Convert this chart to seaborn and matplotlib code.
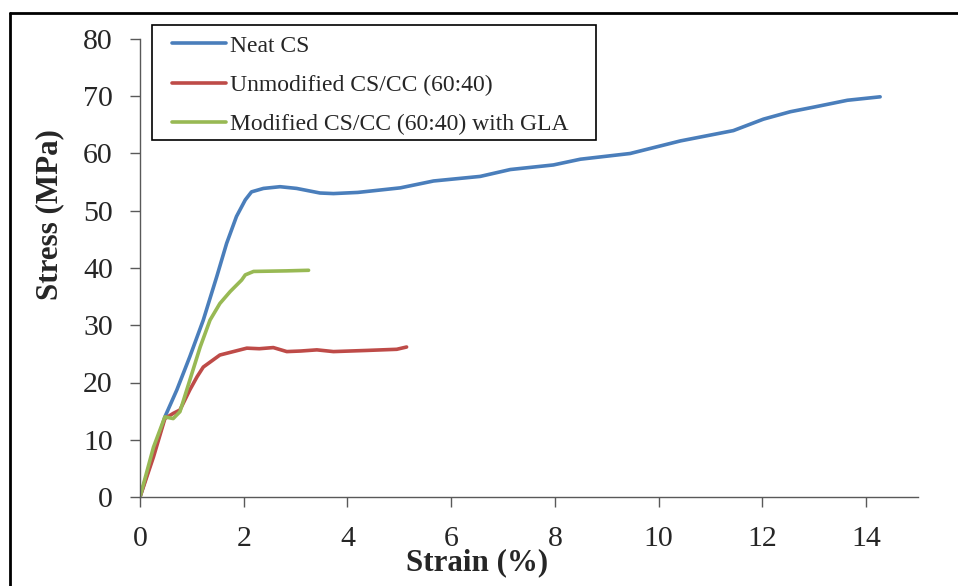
import numpy as np
import matplotlib
matplotlib.use('Agg')
import matplotlib.pyplot as plt
import seaborn as sns
import pandas as pd
from matplotlib.lines import Line2D
from matplotlib.patches import Rectangle

fuente = 21.5

# curves (strain %, stress MPa)
neat_x = [0, 0.48, 0.71, 0.96, 1.22, 1.48, 1.67, 1.86, 2.03, 2.15, 2.38, 2.70, 3.02, 3.47, 3.73, 4.20,
          5.02, 5.66, 6.56, 7.14, 7.97, 8.49, 9.45, 10.42, 11.44, 12.02, 12.54, 12.99, 13.64, 14.27]
neat_y = [0, 14.0, 18.7, 24.5, 30.9, 38.5, 44.3, 49.0, 51.9, 53.3, 53.9, 54.2, 53.9, 53.1, 53.0, 53.2,
          54.0, 55.2, 56.0, 57.2, 58.0, 59.0, 60.0, 62.2, 64.0, 66.0, 67.3, 68.1, 69.3, 69.9]
unmod_x = [0, 0.26, 0.48, 0.64, 0.77, 0.96, 1.10, 1.22, 1.54, 2.06, 2.30, 2.57, 2.83, 3.10, 3.41,
           3.73, 4.37, 4.95, 5.14]
unmod_y = [0, 7.0, 13.7, 14.6, 15.2, 18.7, 21.0, 22.7, 24.8, 26.0, 25.9, 26.1, 25.4, 25.5, 25.7,
           25.4, 25.6, 25.8, 26.2]
mod_x = [0, 0.26, 0.48, 0.64, 0.77, 0.96, 1.16, 1.35, 1.54, 1.74, 1.96, 2.03, 2.19, 2.83, 3.25]
mod_y = [0, 8.7, 14.0, 13.7, 14.9, 20.4, 26.2, 30.9, 33.8, 35.9, 37.9, 38.8, 39.4, 39.5, 39.6]

names = ['Neat CS', 'Unmodified CS/CC (60:40)', 'Modified CS/CC (60:40) with GLA']
colores = ['#4a7ebb', '#be4b48', '#98b954']

df = pd.concat([
    pd.DataFrame({'strain': neat_x, 'stress': neat_y, 'sample': names[0]}),
    pd.DataFrame({'strain': unmod_x, 'stress': unmod_y, 'sample': names[1]}),
    pd.DataFrame({'strain': mod_x, 'stress': mod_y, 'sample': names[2]}),
])

sns.set_style('white')
plt.rcParams['font.family'] = ['Liberation Serif', 'DejaVu Serif']

fig = plt.figure(figsize=(9.58, 5.86), dpi=100)
ax = fig.add_axes([140/958, 1-497/586, (918-140)/958, (497-39)/586])

sns.lineplot(data=df, x='strain', y='stress', hue='sample', palette=colores,
             estimator=None, sort=False, linewidth=2.6, ax=ax)

ax.set_xlim(0, 15)
ax.set_ylim(0, 80)
ax.set_xticks(np.arange(0, 15, 2))
ax.set_yticks(np.arange(0, 81, 10))
ax.tick_params(axis='both', labelsize=fuente, direction='out', length=7, width=1,
               color='#595959', bottom=True, left=True)
ax.tick_params(axis='y', pad=12.5)
ax.tick_params(axis='x', pad=14)
for s in ['top', 'right']:
    ax.spines[s].set_visible(False)
for s in ['left', 'bottom']:
    ax.spines[s].set_color('#595959')
    ax.spines[s].set_linewidth(1)

ax.set_xlabel('Strain (%)', fontsize=22.3, fontweight='bold')
ax.set_ylabel('Stress (MPa)', fontsize=22.3, fontweight='bold')
ax.xaxis.set_label_coords(0.433, -0.112)
ax.yaxis.set_label_coords(-0.098, 0.616)

leg = ax.legend(loc='upper left', bbox_to_anchor=(172/958, 1-35/586), bbox_transform=fig.transFigure,
                borderaxespad=0, borderpad=0, fontsize=17, frameon=False, title=None,
                handlelength=2.3, handletextpad=0.15, labelspacing=0.76)

# legend box and outer border of the original image (cropped on right/bottom)
fig.add_artist(Rectangle((152/958, 1-140/586), (596-152)/958, (140-25)/586, fill=False,
                         edgecolor='black', linewidth=1.2, transform=fig.transFigure))
fig.add_artist(Line2D([10/958, 10/958], [0, 1-13/586], color='black', linewidth=2,
                      transform=fig.transFigure))
fig.add_artist(Line2D([10/958, 1], [1-13/586, 1-13/586], color='black', linewidth=2,
                      transform=fig.transFigure))

plt.savefig('out.png', dpi=100)
